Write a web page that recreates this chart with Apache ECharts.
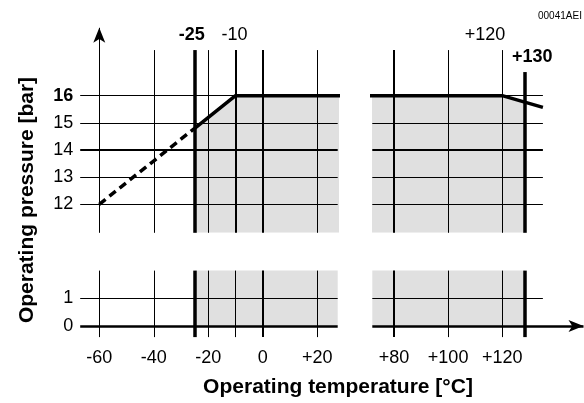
<!DOCTYPE html>
<html>
<head>
<meta charset="utf-8">
<script src="https://cdn.jsdelivr.net/npm/echarts@6/dist/echarts.min.js"></script>
<style>
  html, body { margin: 0; padding: 0; background: #fff; }
  #chart { width: 584px; height: 403px; }
</style>
</head>
<body>
<div id="chart"></div>
<script>
// limits of the admissible range (the +130 line sits a bit left of true scale in the picture)
const tempMin = -25
const tempMax = 128.4

// pressure curve (solid part) and the dashed extension to the left
const curveTemp = [-25, -10, 120, 135]
const curvePress = [14.8, 16, 16, 15.57]
const dashTemp = [-60, -25]
const dashPress = [12, 14.8]
// gray admissible area ends at the +130 line
const areaTemp = [-25, -10, 120, 128.4]
const areaPress = [14.8, 16, 16, 15.73]

// tick labels
const xTicksLeft = [-60, -40, -20, 0, 20]
const xTicksRight = [80, 100, 120]
const yTicksTop = [12, 13, 14, 15, 16]
const yTicksBottom = [0, 1]

// grid lines [value, width]
const vLinesLeft = [[-40, 1], [-20, 1], [-10, 2], [0, 2], [20, 1]]
const vLinesRight = [[80, 2], [100, 1], [120, 1]]
const hLinesTop = [[12, 1], [13, 1], [14, 2], [15, 1], [16, 1]]

const FONT = 'Liberation Sans, Arial, sans-serif'
const upTop = 17.68   // upper end of the grid lines
const upMin = 10.95

let chart = echarts.init(document.getElementById('chart'), null, { renderer: 'canvas' })

function pts(xs, ys) {
  return xs.map((x, i) => [x, ys[i]])
}
function vSeg(x, y0, y1, w) {
  return [{ coord: [x, y0], lineStyle: { width: w } }, { coord: [x, y1], lineStyle: { width: w } }]
}
function hFull(y, w) {
  return { yAxis: y, lineStyle: { width: w } }
}
const lineBase = { color: '#000', type: 'solid' }
function gridSeries(xi, data) {
  return {
    type: 'line', xAxisIndex: xi, yAxisIndex: xi, data: [], silent: true, z: 3,
    markLine: { symbol: 'none', silent: true, animation: false, label: { show: false },
      lineStyle: lineBase, emphasis: { disabled: true }, data: data }
  }
}

// upper-left lines
let ulLines = vLinesLeft.map(v => vSeg(v[0], upMin, upTop, v[1]))
  .concat(hLinesTop.map(h => hFull(h[0], h[1])))
ulLines.push([{ coord: [-60, upMin], lineStyle: { width: 1 } },
  { coord: [-60, 18.5], symbol: 'arrow', symbolSize: [9, 15], lineStyle: { width: 1 } }])
ulLines.push(vSeg(tempMin, upMin, upTop, 3.5))
// upper-right lines
let urLines = vLinesRight.map(v => vSeg(v[0], upMin, upTop, v[1]))
  .concat(hLinesTop.map(h => hFull(h[0], h[1])))
urLines.push(vSeg(tempMax, upMin, 16.87, 3.5))
// lower-left lines
let llLines = vLinesLeft.map(v => vSeg(v[0], -0.4, 2, v[0] === 0 ? 2 : 1))
  .concat([hFull(1, 1), hFull(0, 2.5)])
llLines.push(vSeg(-60, -0.4, 2, 1))
llLines.push(vSeg(tempMin, -0.4, 2, 3.5))
// lower-right lines
let lrLines = vLinesRight.map(v => vSeg(v[0], -0.4, 2, v[1]))
lrLines.push([{ coord: [72, 1], lineStyle: { width: 1 } }, { coord: [135, 1], lineStyle: { width: 1 } }])
lrLines.push([{ coord: [72, 0], lineStyle: { width: 2.5 } },
  { coord: [150, 0], symbol: 'arrow', symbolSize: [9, 15], lineStyle: { width: 2.5 } }])
lrLines.push(vSeg(tempMax, -0.4, 2, 3.5))

const hidden = { axisLine: { show: false }, axisTick: { show: false }, splitLine: { show: false } }
const tickLabel = { color: '#000', fontSize: 18, fontFamily: FONT }
const fmtX = v => (v > 0 ? '+' + v : '' + v)

let option = {
  animation: false,
  backgroundColor: '#fff',
  grid: [
    { left: 80.2, top: 27.8, width: 257.5, height: 205 },
    { left: 372.3, top: 27.8, width: 170.6, height: 205 },
    { left: 80.2, top: 270.6, width: 257.5, height: 66.5 },
    { left: 372.3, top: 270.6, width: 211.2, height: 66.5 }
  ],
  xAxis: [
    Object.assign({ type: 'value', gridIndex: 0, min: -67, max: 27.5, axisLabel: { show: false } }, hidden),
    Object.assign({ type: 'value', gridIndex: 1, min: 72, max: 135, axisLabel: { show: false } }, hidden),
    Object.assign({ type: 'value', gridIndex: 2, min: -67, max: 27.5,
      axisLabel: Object.assign({ customValues: xTicksLeft, formatter: fmtX, margin: 12 }, tickLabel) }, hidden),
    Object.assign({ type: 'value', gridIndex: 3, min: 72, max: 150,
      axisLabel: Object.assign({ customValues: xTicksRight, formatter: fmtX, margin: 12 }, tickLabel) }, hidden)
  ],
  yAxis: [
    Object.assign({ type: 'value', gridIndex: 0, min: upMin, max: 18.5,
      axisLabel: Object.assign({ customValues: yTicksTop, margin: 7,
        formatter: v => (v === 16 ? '{b|16}' : '' + v),
        rich: { b: { fontWeight: 'bold', fontSize: 18, fontFamily: FONT, color: '#000' } } }, tickLabel) }, hidden),
    Object.assign({ type: 'value', gridIndex: 1, min: upMin, max: 18.5, axisLabel: { show: false } }, hidden),
    Object.assign({ type: 'value', gridIndex: 2, min: -0.4, max: 2,
      axisLabel: Object.assign({ customValues: yTicksBottom, margin: 7 }, tickLabel) }, hidden),
    Object.assign({ type: 'value', gridIndex: 3, min: -0.4, max: 2, axisLabel: { show: false } }, hidden)
  ],
  series: [
    // gray areas
    { type: 'line', xAxisIndex: 0, yAxisIndex: 0, data: pts(areaTemp, areaPress), symbol: 'none', z: 1,
      lineStyle: { width: 0 }, areaStyle: { color: '#e0e0e0', opacity: 1, origin: 'start' } },
    { type: 'line', xAxisIndex: 1, yAxisIndex: 1, data: pts(areaTemp, areaPress), symbol: 'none', z: 1,
      lineStyle: { width: 0 }, areaStyle: { color: '#e0e0e0', opacity: 1, origin: 'start' } },
    { type: 'line', xAxisIndex: 2, yAxisIndex: 2, data: [], z: 1,
      markArea: { silent: true, itemStyle: { color: '#e0e0e0' }, data: [[{ coord: [tempMin, 0] }, { coord: [27.5, 2] }]] } },
    { type: 'line', xAxisIndex: 3, yAxisIndex: 3, data: [], z: 1,
      markArea: { silent: true, itemStyle: { color: '#e0e0e0' }, data: [[{ coord: [72, 0] }, { coord: [tempMax, 2] }]] } },
    // grid lines
    gridSeries(0, ulLines),
    gridSeries(1, urLines),
    gridSeries(2, llLines),
    gridSeries(3, lrLines),
    // pressure curve
    { type: 'line', xAxisIndex: 0, yAxisIndex: 0, data: pts(curveTemp, curvePress), symbol: 'none', z: 5,
      lineStyle: { color: '#000', width: 3.5 } },
    { type: 'line', xAxisIndex: 1, yAxisIndex: 1, data: pts(curveTemp, curvePress), symbol: 'none', z: 5,
      lineStyle: { color: '#000', width: 3.5 } },
    { type: 'line', xAxisIndex: 0, yAxisIndex: 0, data: pts(dashTemp, dashPress), symbol: 'none', z: 5,
      lineStyle: { color: '#000', width: 3.5, type: [8, 5] } }
  ]
}
chart.setOption(option)

// labels placed from the axis scales
let px = (xi, x, y) => chart.convertToPixel({ xAxisIndex: xi, yAxisIndex: xi }, [x, y])
let pL = px(0, tempMin, upTop)
let p10 = px(0, -10, upTop)
let p120 = px(1, 120, upTop)
let p130 = px(1, tempMax, 16.87)
let txt = (x, y, text, bold, align) => ({
  type: 'text', x: x, y: y, silent: true,
  style: { text: text, fill: '#000', font: (bold ? 'bold ' : '') + '18px ' + FONT,
    textAlign: align || 'center', textVerticalAlign: 'middle' }
})
chart.setOption({
  graphic: [
    txt(pL[0] - 3, pL[1] - 15, '-25', true),
    txt(p10[0] - 1, p10[1] - 15, '-10', false),
    txt(p120[0] + 3, p120[1] - 15, '+120', false, 'right'),
    txt(p130[0] - 13, p130[1] - 15, '+130', true, 'left'),
    { type: 'text', x: 538, y: 16, silent: true,
      style: { text: '00041AEI', fill: '#000', font: '10px ' + FONT, textVerticalAlign: 'middle' } },
    { type: 'text', x: 27, y: 200, rotation: Math.PI / 2, silent: true,
      style: { text: 'Operating pressure [bar]', fill: '#000', font: 'bold 21px ' + FONT,
        textAlign: 'center', textVerticalAlign: 'middle' } },
    { type: 'text', x: 338, y: 387, silent: true,
      style: { text: 'Operating temperature [°C]', fill: '#000', font: 'bold 21px ' + FONT,
        textAlign: 'center', textVerticalAlign: 'middle' } }
  ]
})
</script>
</body>
</html>
